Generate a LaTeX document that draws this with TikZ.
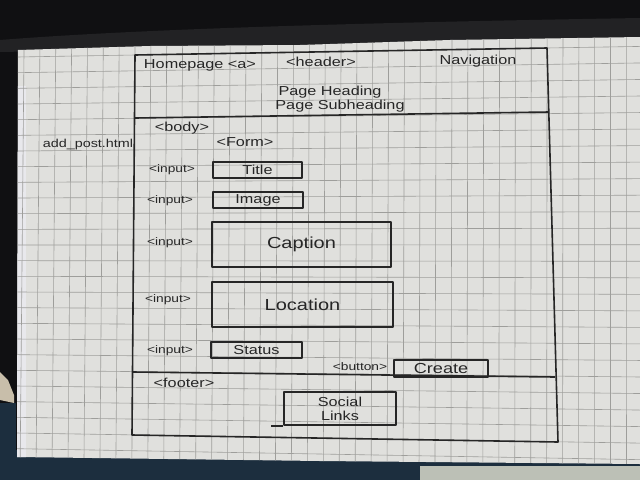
\documentclass[tikz,border=0pt]{standalone}
\usepackage{fontspec}
\newfontfamily\handfont[FakeStretch=1.25]{Liberation Sans}
\definecolor{ink}{RGB}{38,38,38}
\definecolor{paper}{RGB}{224,224,221}
\definecolor{sheetedge}{RGB}{232,232,236}
\definecolor{gridc}{RGB}{158,158,155}
\definecolor{fabric}{RGB}{16,16,18}
\definecolor{fabricfold}{RGB}{34,34,36}
\definecolor{floor}{RGB}{28,46,62}
\definecolor{glare}{RGB}{188,192,182}
\definecolor{beige}{RGB}{200,190,170}
\begin{document}
\begin{tikzpicture}[x=1pt,y=-1pt,
  pen/.style={draw=ink, line width=1.6pt, line join=round},
  gridline/.style={draw=gridc, line width=0.6pt},
  hand/.style={font=\handfont\fontsize{13}{15}\selectfont, text=ink, inner sep=0pt},
  big/.style={font=\handfont\fontsize{16}{18}\selectfont, text=ink, inner sep=0pt},
  tag/.style={font=\handfont\fontsize{11}{12}\selectfont, text=ink, inner sep=0pt},
  field/.style={pen, inner sep=0pt, text=ink}]
\useasboundingbox (0,0) rectangle (640,480);

% surroundings: dark fabric above and to the left, dark floor below
\fill[fabric] (0,0) rectangle (640,480);
\fill[fabricfold] (0,40) .. controls (150,28) and (400,22) .. (640,18) -- (640,40) -- (0,52) -- cycle;
\fill[beige] (0,372) -- (8,380) -- (14,395) -- (14,403) -- (0,400) -- cycle;
\fill[floor] (0,403) -- (16,403) -- (16,480) -- (0,480) -- cycle;
\fill[floor] (0,450) rectangle (640,480);
\fill[glare] (420,466) rectangle (640,480);

% the page
\begin{scope}
  \path[clip] (18,50) -- (150,46) -- (300,45) -- (450,40) -- (640,37) -- (640,464)
    -- (320,461) -- (17,457) -- cycle;
  \fill[paper] (0,0) rectangle (640,480);
  % edges of the sheets underneath
  \fill[sheetedge] (17,86) rectangle (26,460);
  % squared ruling, slightly in perspective
  \foreach \i in {-9,...,32} {
    \pgfmathsetmacro{\xt}{135+15.85*\i}
    \pgfmathsetmacro{\xb}{132+15.95*\i}
    \pgfmathsetmacro{\xa}{\xt-(\xb-\xt)*48/394}
    \pgfmathsetmacro{\xz}{\xb+(\xb-\xt)*38/394}
    \draw[gridline] (\xa,0) -- (\xz,480);
  }
  \foreach \j in {-4,...,27} {
    \pgfmathsetmacro{\yl}{55+15.83*\j}
    \pgfmathsetmacro{\yr}{48+16.4*\j}
    \pgfmathsetmacro{\ya}{\yl-(\yr-\yl)*135/412}
    \pgfmathsetmacro{\yz}{\yl+(\yr-\yl)*505/412}
    \draw[gridline] (0,\ya) -- (640,\yz);
  }
\end{scope}

% page frame with header and footer bands
\coordinate (tl) at (135,55);
\coordinate (tr) at (547,48);
\coordinate (br) at (558,442);
\coordinate (bl) at (132,435);
\draw[pen] (tl) -- (tr) -- (br) -- (bl) -- cycle;
\coordinate (hl) at (135,118);
\coordinate (hr) at (549,112);
\draw[pen] (hl) -- (hr);
\coordinate (fl) at (133,372);
\coordinate (fr) at (555,377);
\draw[pen] (fl) -- (fr);

% header
\node[hand] (home) at (200,65) {Homepage <a>};
\node[hand] (header) at (321,62) {<header>};
\node[hand] (nav) at (478,61) {Navigation};
\node[hand] (heading) at (330,92) {Page Heading};
\node[hand] (subheading) at (340,106) {Page Subheading};

% body
\node[hand, font=\handfont\fontsize{11.5}{13}\selectfont] (file) at (88,145) {add\_post.html};
\node[hand] (body) at (182,128) {<body>};
\node[hand] (form) at (245,142) {<Form>};

\node[tag] (in1) at (172,170) {<input>};
\node[field, hand, minimum width=89, minimum height=16] (title) at (257.5,170) {Title};
\node[tag] (in2) at (170,201) {<input>};
\node[field, hand, minimum width=90, minimum height=16] (image) at (258,200) {Image};
\node[tag] (in3) at (170,243) {<input>};
\node[field, big, minimum width=179, minimum height=45] (caption) at (301.5,244.5) {Caption};
\node[tag] (in4) at (168,300) {<input>};
\node[field, big, minimum width=181, minimum height=45] (location) at (302.5,304.5) {Location};
\node[tag] (in5) at (170,351) {<input>};
\node[field, hand, minimum width=91, minimum height=16] (status) at (256.5,350) {Status};
\node[tag] (btn) at (360,367) {<button>};
\node[field, font=\handfont\fontsize{14.5}{16}\selectfont, minimum width=94, minimum height=17] (create) at (441,368.5) {Create};

% footer
\node[hand] (footer) at (184,383) {<footer>};
\node[field, hand, align=center, minimum width=112, minimum height=33] (social) at (340,408.5) {Social\\[-1pt]Links};
\draw[pen] (social.south west) -- ++(-12,0);

\end{tikzpicture}
\end{document}
